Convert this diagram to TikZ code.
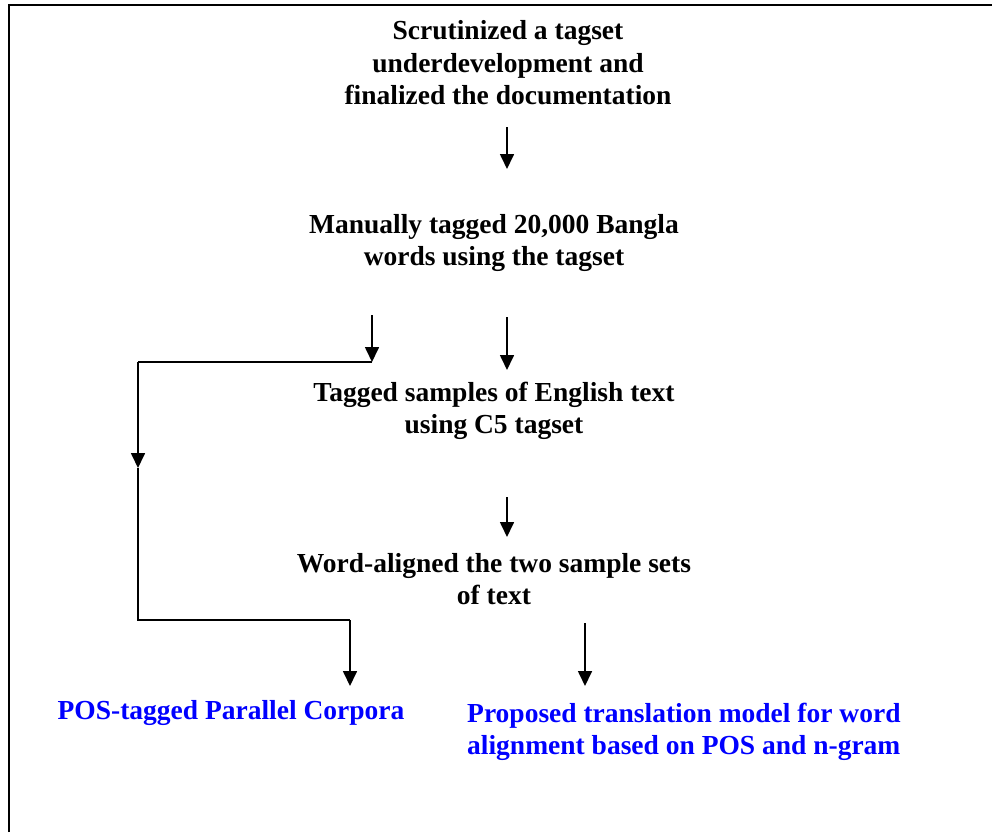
\documentclass[tikz,border=0pt]{standalone}
\usepackage{fontspec}
\setmainfont{Liberation Serif}
\usetikzlibrary{arrows.meta}
\begin{document}
\begin{tikzpicture}[x=1pt,y=-1pt,
  lbl/.style={font=\fontsize{27.5}{32.5}\selectfont\bfseries, align=center, inner sep=0pt},
  bluelbl/.style={lbl, text=blue},
  arr/.style={line width=1.7pt, -{Triangle[width=14pt,length=15pt]}},
  ln/.style={line width=1.7pt}]
\useasboundingbox (0,0) rectangle (992,832);
\draw[line width=2pt] (9,832) -- (9,5) -- (992,5);

\node[lbl] (t1) at (508,63) {Scrutinized a tagset\\underdevelopment and\\finalized the documentation};
\node[lbl] (t2) at (494,243) {Manually tagged 20,000 Bangla\\words using the tagset};
\node[lbl] (t3) at (494,411) {Tagged samples of English text\\using C5 tagset};
\node[lbl] (t4) at (494,579) {Word-aligned the two sample sets\\of text};
\node[bluelbl] (t5) at (231,713) {POS-tagged Parallel Corpora};
\node[bluelbl, anchor=west, align=left] (t6) at (467,732) {Proposed translation model for word\\alignment based on POS and n-gram};

\coordinate (a1s) at (507,127); \coordinate (a1e) at (507,169);
\coordinate (a2s) at (372,315); \coordinate (a2e) at (372,362);
\coordinate (a3s) at (507,317); \coordinate (a3e) at (507,370);
\coordinate (c1) at (138,362); \coordinate (m) at (138,468); \coordinate (c2) at (138,620);
\coordinate (a4s) at (507,497); \coordinate (a4e) at (507,537);
\coordinate (a5s) at (350,620); \coordinate (a5e) at (350,686);
\coordinate (a6s) at (585,623); \coordinate (a6e) at (585,686);

\draw[arr] (a1s) -- (a1e);
\draw[arr] (a2s) -- (a2e);
\draw[arr] (a3s) -- (a3e);
\draw[arr] (a4s) -- (a4e);
\draw[ln] (a2e) -- (c1);
\draw[arr] (c1) -- (m);
\draw[ln] (m) -- (c2) -- (a5s);
\draw[arr] (a5s) -- (a5e);
\draw[arr] (a6s) -- (a6e);
\end{tikzpicture}
\end{document}
